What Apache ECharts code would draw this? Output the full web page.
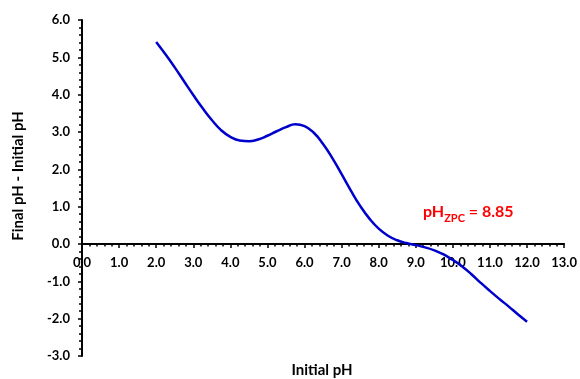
<!DOCTYPE html>
<html>
<head>
<meta charset="utf-8">
<script src="https://cdn.jsdelivr.net/npm/echarts@6/dist/echarts.min.js"></script>
<style>
  html, body { margin: 0; padding: 0; background: #fff; }
  #chart { width: 580px; height: 379px; }
</style>
</head>
<body>
<div id="chart"></div>
<script>
// Initial pH values and the measured change (final - initial)
const initialPH = [2.0, 2.25, 2.5, 2.75, 3.0, 3.25, 3.5, 3.75, 4.0, 4.25, 4.5, 4.75, 5.0, 5.25, 5.5, 5.75, 6.0, 6.25, 6.5, 6.75, 7.0, 7.25, 7.5, 7.75, 8.0, 8.25, 8.5, 8.75, 9.0, 9.25, 9.5, 9.75, 10.0, 10.25, 10.5, 10.75, 11.0, 11.25, 11.5, 11.75, 12.0];
const deltaPH   = [5.41, 5.08, 4.73, 4.36, 3.99, 3.64, 3.32, 3.05, 2.87, 2.77, 2.75, 2.80, 2.90, 3.02, 3.13, 3.21, 3.16, 2.98, 2.68, 2.30, 1.87, 1.43, 1.02, 0.68, 0.41, 0.22, 0.10, 0.025, -0.03, -0.09, -0.17, -0.28, -0.43, -0.60, -0.81, -1.04, -1.26, -1.47, -1.67, -1.88, -2.08];
const pzcValue = 8.85;

const yMin = -3, yMax = 6;
const gridTop = 20, gridBottom = 23, chartHeight = 379;
const font = 'Lato, "Open Sans", "Liberation Sans", sans-serif';
const chart = echarts.init(document.getElementById('chart'));

// The x axis is drawn through y = 0, with its labels just beneath it
const plotHeight = chartHeight - gridTop - gridBottom;
const zeroOffset = -plotHeight * (0 - yMin) / (yMax - yMin);

chart.setOption({
  animation: false,
  grid: { left: 82, right: 15, top: gridTop, bottom: gridBottom, containLabel: false },
  xAxis: {
    type: 'value', min: 0, max: 13, interval: 1,
    offset: zeroOffset,
    axisLine: { onZero: false, lineStyle: { color: '#000', width: 2 } },
    axisTick: { show: true, length: 4, lineStyle: { color: '#000', width: 1.5 } },
    minorTick: { show: true, splitNumber: 5, length: 2.5, lineStyle: { color: '#000', width: 1.5 } },
    splitLine: { show: false },
    axisLabel: { margin: 12, color: '#000', fontFamily: font, fontWeight: 'bold', fontSize: 13,
      formatter: v => v.toFixed(1) }
  },
  yAxis: {
    type: 'value', min: yMin, max: yMax, interval: 1,
    axisLine: { lineStyle: { color: '#000', width: 2 } },
    axisTick: { show: true, length: 4, lineStyle: { color: '#000', width: 1.5 } },
    minorTick: { show: true, splitNumber: 5, length: 3, lineStyle: { color: '#000', width: 1.5 } },
    splitLine: { show: false },
    axisLabel: { margin: 12, color: '#000', fontFamily: font, fontWeight: 'bold', fontSize: 13,
      formatter: v => v.toFixed(1) }
  },
  series: [{
    type: 'line',
    data: initialPH.map((x, i) => [x, deltaPH[i]]),
    smooth: 0.5,
    showSymbol: false,
    lineStyle: { color: '#0000CC', width: 2.5 }
  }],
  graphic: [
    {
      type: 'text', x: 322, y: 370,
      style: { text: 'Initial pH', fill: '#000', font: 'bold 15px ' + font,
        align: 'center', verticalAlign: 'middle' }
    },
    {
      type: 'text', x: 18, y: 176, rotation: Math.PI / 2,
      style: { text: 'Final pH - Initial pH', fill: '#000', font: 'bold 15px ' + font,
        align: 'center', verticalAlign: 'middle' }
    },
    {
      type: 'text', left: 423, top: 204,
      style: {
        text: '{m|pH}{s|ZPC}{m| = ' + pzcValue.toFixed(2) + '}',
        rich: {
          m: { fill: '#FF0000', font: 'bold 16px ' + font, verticalAlign: 'bottom' },
          s: { fill: '#FF0000', font: 'bold 11px ' + font, verticalAlign: 'bottom', padding: [0, 0, -4, 0] }
        }
      }
    }
  ]
});
</script>
</body>
</html>
